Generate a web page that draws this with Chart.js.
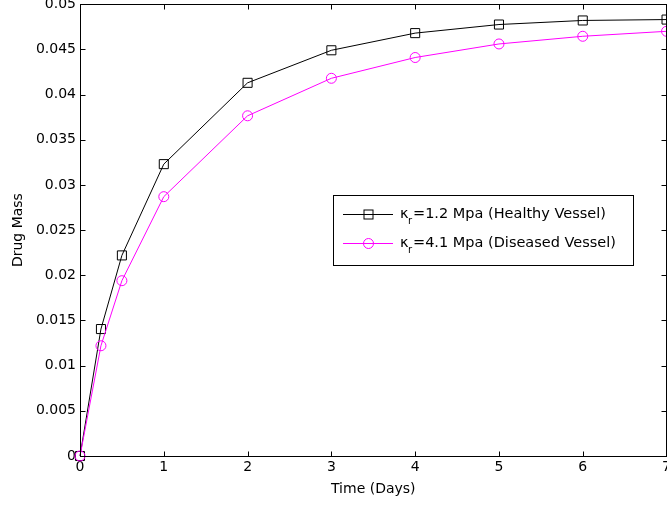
<!DOCTYPE html>
<html>
<head>
<meta charset="utf-8">
<script src="https://cdn.jsdelivr.net/npm/chart.js@4.4.1/dist/chart.umd.min.js"></script>
<style>
  html, body { margin: 0; padding: 0; background: #fff; }
  /* kanvas sedikit lebih besar lalu dipotong, seperti label "0.05" dan "7" di gambar asli */
  #wrap { width: 667px; height: 510px; overflow: hidden; }
  #c { display: block; margin-top: -4px; }
</style>
</head>
<body>
<div id="wrap"><canvas id="c" width="674" height="514"></canvas></div>
<script>
// === DATA ===
const timeDays = [0, 0.25, 0.5, 1, 2, 3, 4, 5, 6, 7];
const healthyMass = [0, 0.01405, 0.0222, 0.0323, 0.0413, 0.0449, 0.0468, 0.04775, 0.0482, 0.0483];
const diseasedMass = [0, 0.0122, 0.0194, 0.0287, 0.03765, 0.0418, 0.0441, 0.0456, 0.04645, 0.0470];
const xTickLabels = ['0', '1', '2', '3', '4', '5', '6', '7'];
const yTickLabels = ['0', '0.005', '0.01', '0.015', '0.02', '0.025', '0.03', '0.035', '0.04', '0.045', '0.05'];
const legendLabels = [
  { sub: 'r', rest: '=1.2 Mpa (Healthy Vessel)' },
  { sub: 'r', rest: '=4.1 Mpa (Diseased Vessel)' }
];

const FONT = '"DejaVu Sans", Verdana, sans-serif';
const SHIFT = 4; // kanvas digeser ke atas 4px

function toPoints(xs, ys) {
  return xs.map((x, i) => ({ x: x, y: ys[i] }));
}

// === PLUGIN: kotak, tick ke dalam, legenda ===
const matlabFrame = {
  id: 'matlabFrame',
  afterDraw(chart) {
    const ctx = chart.ctx;
    const a = chart.chartArea;
    const xs = chart.scales.x, ys = chart.scales.y;
    ctx.save();
    ctx.strokeStyle = '#000';
    ctx.lineWidth = 1;
    // kotak sumbu
    const L = Math.round(a.left) + 0.5, T = Math.round(a.top) + 0.5;
    const R = Math.round(a.right) - 0.5, B = Math.round(a.bottom) + 0.5;
    ctx.strokeRect(L, T, R - L, B - T);
    // tick ke dalam
    const tl = 5;
    ctx.beginPath();
    xTickLabels.forEach((t, i) => {
      const px = Math.round(xs.getPixelForValue(i)) + 0.5;
      ctx.moveTo(px, B); ctx.lineTo(px, B - tl);
      ctx.moveTo(px, T); ctx.lineTo(px, T + tl);
    });
    yTickLabels.forEach((t, i) => {
      const py = Math.round(ys.getPixelForValue(i * 0.005)) + 0.5;
      ctx.moveTo(L, py); ctx.lineTo(L + tl, py);
      ctx.moveTo(R, py); ctx.lineTo(R - tl, py);
    });
    ctx.stroke();

    // legenda
    const bx = 333.5, by = 195.5 + SHIFT, bw = 300, bh = 70;
    ctx.fillStyle = '#fff';
    ctx.fillRect(bx, by, bw, bh);
    ctx.strokeRect(bx, by, bw, bh);
    const rows = [214 + SHIFT, 243 + SHIFT];
    chart.data.datasets.forEach((ds, i) => {
      const y = rows[i] + 0.5;
      ctx.strokeStyle = ds.borderColor;
      ctx.beginPath();
      ctx.moveTo(343, y); ctx.lineTo(393, y);
      ctx.stroke();
      if (ds.pointStyle === 'rect') {
        ctx.strokeRect(364, y - 4.5, 9, 9);
      } else {
        ctx.beginPath();
        ctx.arc(368.5, y, 5, 0, Math.PI * 2);
        ctx.stroke();
      }
      ctx.fillStyle = '#000';
      ctx.textBaseline = 'middle';
      ctx.textAlign = 'left';
      ctx.font = '14.5px ' + FONT;
      ctx.fillText('\u03BA', 400, rows[i]);
      ctx.font = '10px ' + FONT;
      ctx.fillText(legendLabels[i].sub, 408, rows[i] + 7);
      ctx.font = '14.5px ' + FONT;
      ctx.fillText(legendLabels[i].rest, 413, rows[i]);
    });
    ctx.restore();
  }
};

new Chart(document.getElementById('c'), {
  type: 'line',
  data: {
    datasets: [{
      label: 'Healthy',
      data: toPoints(timeDays, healthyMass),
      borderColor: '#000000',
      backgroundColor: 'rgba(0,0,0,0)',
      borderWidth: 1,
      pointStyle: 'rect',
      pointRadius: 6.4,
      pointBorderWidth: 1,
      pointBackgroundColor: 'rgba(0,0,0,0)',
      order: 2,
      clip: false
    }, {
      label: 'Diseased',
      data: toPoints(timeDays, diseasedMass),
      borderColor: '#ff00ff',
      backgroundColor: 'rgba(0,0,0,0)',
      borderWidth: 1,
      pointStyle: 'circle',
      pointRadius: 5,
      pointBorderWidth: 1,
      pointBackgroundColor: 'rgba(0,0,0,0)',
      order: 1,
      clip: false
    }]
  },
  options: {
    responsive: false,
    animation: false,
    layout: { padding: { top: 0, right: 0, left: 0, bottom: 0 } },
    plugins: { legend: { display: false }, tooltip: { enabled: false } },
    elements: { line: { tension: 0 } },
    scales: {
      x: {
        type: 'linear', min: 0, max: 7,
        afterFit(s) { s.height = 54; },
        grid: { display: false, drawTicks: false },
        border: { display: false },
        ticks: {
          stepSize: 1, padding: 3, color: '#000', maxRotation: 0, autoSkip: false,
          font: { family: FONT, size: 14 },
          callback: (v) => xTickLabels[v]
        },
        title: {
          display: true, text: 'Time (Days)', color: '#000',
          font: { family: FONT, size: 14 }, padding: { top: 0, bottom: 12 }
        }
      },
      y: {
        min: 0, max: 0.05,
        afterFit(s) { s.width = 80; },
        grid: { display: false, drawTicks: false },
        border: { display: false },
        ticks: {
          stepSize: 0.005, padding: 4, color: '#000', autoSkip: false,
          font: { family: FONT, size: 14, lineHeight: 0.6 },
          callback: (v) => yTickLabels[Math.round(v / 0.005)]
        },
        title: {
          display: true, text: 'Drug Mass', color: '#000',
          font: { family: FONT, size: 14 }, padding: { top: 10, bottom: 0 }
        }
      }
    }
  },
  plugins: [matlabFrame]
});
</script>
</body>
</html>
